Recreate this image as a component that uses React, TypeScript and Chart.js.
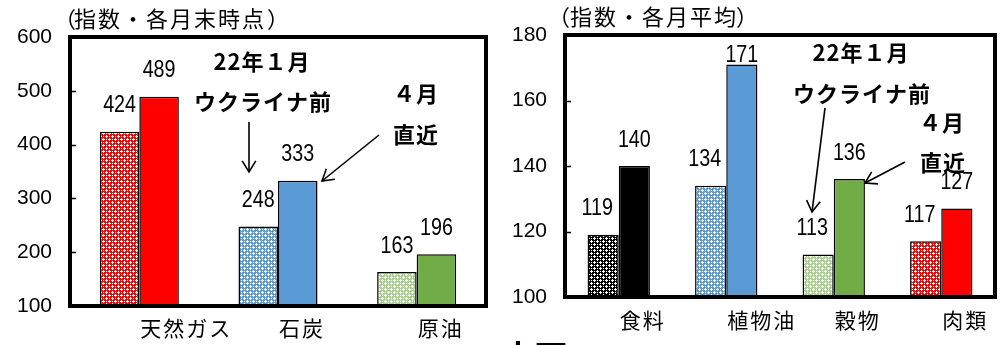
import React, { useEffect, useRef } from "react";
import { Chart, registerables } from "chart.js";

Chart.register(...registerables);

// ---- Energy panel (index, end of month) ----
const energyCategories = ["天然ガス", "石炭", "原油"];
const energyJan = [424, 248, 163];
const energyApr = [489, 333, 196];
const energyAxis = [100, 600, 100]; // min, max, step

// ---- Food panel (index, monthly average) ----
const foodCategories = ["食料", "植物油", "穀物", "肉類"];
const foodJan = [119, 134, 113, 117];
const foodApr = [140, 171, 136, 127];
const foodAxis = [100, 180, 20];

const energySolid = ["#FF0000", "#5B9BD5", "#70AD47"];
const energyHatch = ["#FF0000", "#5B9BD5", "#A9D18E"];
const foodSolid = ["#000000", "#5B9BD5", "#70AD47", "#FF0000"];
const foodHatch = ["#000000", "#5B9BD5", "#A9D18E", "#FF0000"];

const H = 345;
const JP = "'Noto Sans CJK JP', 'Noto Sans CJK SC', sans-serif";
const NUM = "'Liberation Sans', Arial, sans-serif";

// small lattice tile used for the "before" bars
const TILE = [
  "CWCCCC",
  "WWWCWC",
  "CWCCCC",
  "CCCCWC",
  "CWCWWW",
  "CCCCWC",
];

function makePattern(ctx: CanvasRenderingContext2D, color: string) {
  const c = document.createElement("canvas");
  c.width = 6;
  c.height = 6;
  const g = c.getContext("2d")!;
  g.fillStyle = color;
  g.fillRect(0, 0, 6, 6);
  g.fillStyle = "#ffffff";
  TILE.forEach((row, y) =>
    row.split("").forEach((ch, x) => {
      if (ch === "W") g.fillRect(x, y, 1, 1);
    })
  );
  return ctx.createPattern(c, "repeat")!;
}

type Note = { text: string; x: number; y: number };
type Arrow = { x1: number; y1: number; x2: number; y2: number };
type Panel = {
  left: number;
  width: number;
  area: { left: number; top: number; right: number; bottom: number };
  categories: string[];
  jan: number[];
  apr: number[];
  axis: number[];
  hatch: string[];
  solid: string[];
  group: number;
  janDx: number;
  labelY: number;
  title: { open: number; text: string; textX: number; close: number; y: number };
  notes: Note[];
  arrows: Arrow[];
};

const energyPanel: Panel = {
  left: 0,
  width: 500,
  area: { left: 70, top: 37, right: 486, bottom: 306 },
  categories: energyCategories,
  jan: energyJan,
  apr: energyApr,
  axis: energyAxis,
  hatch: energyHatch,
  solid: energySolid,
  group: 0.57,
  janDx: 0,
  labelY: 328,
  title: { open: 54, text: "指数・各月末時点", textX: 74, close: 267, y: 19 },
  notes: [
    { text: "22年１月", x: 262, y: 62 },
    { text: "ウクライナ前", x: 263, y: 102 },
    { text: "４月", x: 416, y: 94 },
    { text: "直近", x: 416, y: 135 },
  ],
  arrows: [
    { x1: 249, y1: 122, x2: 249, y2: 172 },
    { x1: 379, y1: 135, x2: 322, y2: 181 },
  ],
};

const foodPanel: Panel = {
  left: 500,
  width: 501,
  area: { left: 65, top: 35, right: 495, bottom: 297 },
  categories: foodCategories,
  jan: foodJan,
  apr: foodApr,
  axis: foodAxis,
  hatch: foodHatch,
  solid: foodSolid,
  group: 0.58,
  janDx: -6,
  labelY: 320,
  title: { open: 48, text: "指数・各月平均", textX: 70, close: 236, y: 17 },
  notes: [
    { text: "22年１月", x: 361, y: 53 },
    { text: "ウクライナ前", x: 362, y: 94 },
    { text: "４月", x: 442, y: 123 },
    { text: "直近", x: 443, y: 163 },
  ],
  arrows: [
    { x1: 325, y1: 108, x2: 312, y2: 212 },
    { x1: 405, y1: 162, x2: 365, y2: 183 },
  ],
};

function drawArrow(ctx: CanvasRenderingContext2D, a: Arrow) {
  ctx.beginPath();
  ctx.moveTo(a.x1, a.y1);
  ctx.lineTo(a.x2, a.y2);
  ctx.stroke();
  const ang = Math.atan2(a.y2 - a.y1, a.x2 - a.x1);
  const len = 13;
  const spread = 0.55;
  ctx.beginPath();
  ctx.moveTo(a.x2 - len * Math.cos(ang - spread), a.y2 - len * Math.sin(ang - spread));
  ctx.lineTo(a.x2, a.y2);
  ctx.lineTo(a.x2 - len * Math.cos(ang + spread), a.y2 - len * Math.sin(ang + spread));
  ctx.stroke();
}

function panelPlugin(p: Panel) {
  return {
    id: "panelDecor",
    afterDatasetsDraw(chart: any) {
      const ctx: CanvasRenderingContext2D = chart.ctx;
      const ca = chart.chartArea;
      const y = chart.scales.y;
      ctx.save();
      // frame
      ctx.strokeStyle = "#000";
      ctx.lineWidth = 4;
      ctx.strokeRect(ca.left, ca.top, ca.right - ca.left, ca.bottom - ca.top);
      // small inner ticks on the value axis
      ctx.lineWidth = 1.5;
      for (let v = p.axis[0] + p.axis[2]; v < p.axis[1]; v += p.axis[2]) {
        const py = Math.round(y.getPixelForValue(v)) + 0.5;
        ctx.beginPath();
        ctx.moveTo(ca.left, py);
        ctx.lineTo(ca.left + 6, py);
        ctx.stroke();
      }
      // value labels above each bar (condensed digits)
      ctx.fillStyle = "#000";
      ctx.font = `24px ${NUM}`;
      ctx.textAlign = "center";
      ctx.textBaseline = "middle";
      chart.data.datasets.forEach((ds: any, di: number) => {
        const meta = chart.getDatasetMeta(di);
        meta.data.forEach((bar: any, i: number) => {
          const lx = bar.x + (di === 0 ? p.janDx : 0);
          const ly = Math.max(bar.y - 26, ca.top + 20);
          ctx.save();
          ctx.translate(lx, ly);
          ctx.scale(0.82, 1);
          ctx.fillText(String(ds.data[i]), 0, 0);
          ctx.restore();
        });
      });
      ctx.restore();
    },
    afterDraw(chart: any) {
      const ctx: CanvasRenderingContext2D = chart.ctx;
      const x = chart.scales.x;
      ctx.save();
      ctx.fillStyle = "#000";
      ctx.strokeStyle = "#000";
      // category labels, left-aligned at the group centre
      ctx.font = `21px ${JP}`;
      (ctx as any).letterSpacing = "2px";
      ctx.textAlign = "left";
      ctx.textBaseline = "middle";
      p.categories.forEach((c, i) => {
        ctx.fillText(c, x.getPixelForValue(i) + 1, p.labelY);
      });
      // unit caption
      ctx.font = `22px ${JP}`;
      ctx.fillText("（", p.title.open, p.title.y);
      ctx.fillText(p.title.text, p.title.textX, p.title.y);
      ctx.fillText("）", p.title.close, p.title.y);
      // annotations
      ctx.font = `bold 22px ${JP}`;
      (ctx as any).letterSpacing = "1px";
      ctx.textAlign = "center";
      p.notes.forEach((n) => ctx.fillText(n.text, n.x, n.y));
      (ctx as any).letterSpacing = "0px";
      ctx.lineWidth = 1.6;
      p.arrows.forEach((a) => drawArrow(ctx, a));
      ctx.restore();
    },
  };
}

function buildConfig(p: Panel, ctx: CanvasRenderingContext2D): any {
  const a = p.area;
  return {
    type: "bar",
    data: {
      labels: p.categories,
      datasets: [
        {
          label: "22年１月",
          data: p.jan,
          backgroundColor: p.hatch.map((c) => makePattern(ctx, c)),
          borderColor: "#000",
          borderWidth: 1.5,
          base: p.axis[0],
          categoryPercentage: p.group,
          barPercentage: 1,
        },
        {
          label: "４月",
          data: p.apr,
          backgroundColor: p.solid,
          borderColor: "#000",
          borderWidth: 1.5,
          base: p.axis[0],
          categoryPercentage: p.group,
          barPercentage: 1,
        },
      ],
    },
    options: {
      responsive: false,
      animation: false,
      layout: { padding: { top: a.top, right: p.width - a.right, left: 0, bottom: 0 } },
      plugins: {
        legend: { display: false },
        tooltip: { enabled: false },
        title: { display: false },
      },
      scales: {
        x: {
          type: "category",
          offset: true,
          grid: { display: false, drawTicks: false },
          border: { display: false },
          ticks: { display: false },
          afterFit: (s: any) => {
            s.height = H - a.bottom;
          },
        },
        y: {
          min: p.axis[0],
          max: p.axis[1],
          grid: { display: false, drawTicks: false },
          border: { display: false },
          ticks: {
            stepSize: p.axis[2],
            padding: 18,
            color: "#000",
            font: { family: NUM, size: 21 },
          },
          afterFit: (s: any) => {
            s.width = a.left;
          },
        },
      },
    },
    plugins: [panelPlugin(p)],
  };
}

function BarPanel({ panel }: { panel: Panel }) {
  const ref = useRef<HTMLCanvasElement>(null);
  useEffect(() => {
    const canvas = ref.current!;
    const ctx = canvas.getContext("2d")!;
    const chart = new Chart(ctx, buildConfig(panel, ctx));
    return () => chart.destroy();
  }, [panel]);
  return (
    <div style={{ position: "absolute", left: panel.left, top: 0, width: panel.width, height: H }}>
      <canvas ref={ref} width={panel.width} height={H} style={{ display: "block" }} />
    </div>
  );
}

export default function App() {
  return (
    <div
      style={{
        position: "fixed",
        left: 0,
        top: 0,
        width: 1001,
        height: H,
        overflow: "hidden",
        background: "#fff",
      }}
    >
      <BarPanel panel={energyPanel} />
      <BarPanel panel={foodPanel} />
      <div
        style={{
          position: "absolute",
          left: 503,
          top: 338,
          fontFamily: JP,
          fontWeight: 700,
          fontSize: 32,
          lineHeight: 1,
          whiteSpace: "nowrap",
          color: "#000",
        }}
      >
        上下
      </div>
    </div>
  );
}
